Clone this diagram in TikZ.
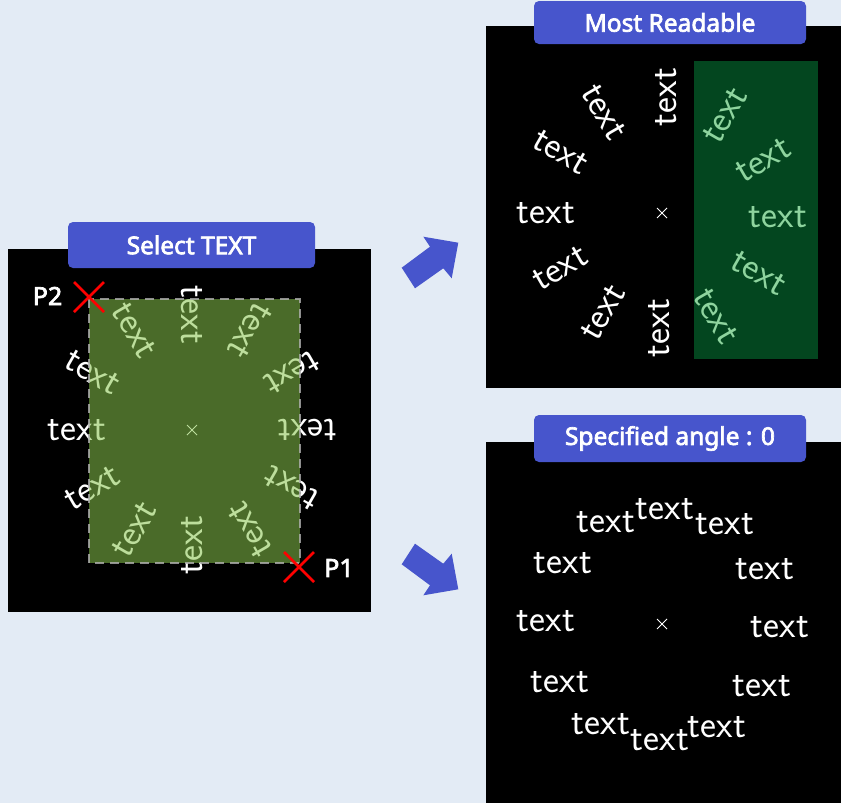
\documentclass[tikz,border=0pt]{standalone}
\usepackage{fontspec}
\usetikzlibrary{calc}
\newfontfamily\lblfont{Noto Sans}[FakeBold=2.8]
\definecolor{bg}{HTML}{E3EBF5}
\definecolor{blu}{HTML}{4755CC}
\definecolor{olivefill}{RGB}{135,195,76}
\definecolor{dgreen}{HTML}{03461F}
\definecolor{lgreen}{HTML}{8ED49E}
\begin{document}
\begin{tikzpicture}[x=1pt,y=-1pt,
 txt/.style={font=\sffamily\fontsize{38}{38}\selectfont, text=white, inner sep=0pt, anchor=center},
 gtxt/.style={txt, text=lgreen},
 lbl/.style={rounded corners=5pt, fill=blu, text=white, font=\lblfont\fontsize{24.5}{24.5}\selectfont, inner sep=0pt},
 plbl/.style={text=white, font=\lblfont\fontsize{25}{25}\selectfont, inner sep=0pt},
 panel/.style={fill=black},
 cross/.style={draw=red, line width=2.5pt},
 centermark/.style={draw=white, line width=1pt},
 bigarrow/.style={fill=blu}]
\fill[bg] (0,0) rectangle (841,803);
\useasboundingbox (0,0) rectangle (841,803);

% ---------- left panel ----------
\fill[panel] (8,249) rectangle (371,612);
\node[lbl, minimum width=247pt, minimum height=46pt] (lblA) at (191.5,245) {Select TEXT};
\foreach \t in {0,30,...,330} {
  \node[txt, rotate=\t+180] (a\t) at ({192+115*cos(\t)},{430-115*sin(\t)}) {text};
}
\coordinate (ca) at (192,430);
\draw[centermark] ($(ca)+(-5,-5)$) -- ($(ca)+(5,5)$) ($(ca)+(-5,5)$) -- ($(ca)+(5,-5)$);
\fill[olivefill, fill opacity=0.55] (89,299) rectangle (300,563);
\draw[gray!60, line width=1.6pt, dash pattern=on 9pt off 6pt, draw opacity=0.8] (89,299) rectangle (300,563);
\coordinate (p2) at (89,297);
\coordinate (p1) at (299,567);
\draw[cross] ($(p2)+(-15,-15)$) -- ($(p2)+(15,15)$) ($(p2)+(-15,15)$) -- ($(p2)+(15,-15)$);
\draw[cross] ($(p1)+(-15,-15)$) -- ($(p1)+(15,15)$) ($(p1)+(-15,15)$) -- ($(p1)+(15,-15)$);
\node[plbl] (lp2) at (47.5,296) {P2};
\node[plbl] (lp1) at (339,568) {P1};

% ---------- top right panel ----------
\fill[panel] (486,26) rectangle (841,388);
\fill[dgreen] (694,61) rectangle (818,359);
\node[lbl, minimum width=272pt, minimum height=43pt] (lblB) at (670,22.5) {Most Readable};
\node[txt, rotate=90]  (b1) at (666,97) {text};
\node[txt, rotate=-60] (b2) at (604,112) {text};
\node[txt, rotate=-30] (b3) at (561,152) {text};
\node[txt]             (b4) at (546,213) {text};
\node[txt, rotate=30]  (b5) at (560,268) {text};
\node[txt, rotate=60]  (b6) at (603,312) {text};
\node[txt, rotate=90]  (b7) at (659,328) {text};
\node[gtxt, rotate=60]  (b8) at (725,115) {text};
\node[gtxt, rotate=30]  (b9) at (763,160) {text};
\node[gtxt]             (b10) at (778,217) {text};
\node[gtxt, rotate=-30] (b11) at (759,273) {text};
\node[gtxt, rotate=-60] (b12) at (716,316) {text};
\coordinate (cb) at (662,213);
\draw[centermark] ($(cb)+(-5,-5)$) -- ($(cb)+(5,5)$) ($(cb)+(-5,5)$) -- ($(cb)+(5,-5)$);

% ---------- bottom right panel ----------
\fill[panel] (486,442) rectangle (841,803);
\node[lbl, minimum width=272pt, minimum height=47pt] (lblC) at (670,438.5) {Specified angle : 0};
\node[txt] (c1) at (606,522) {text};
\node[txt] (c2) at (665,509) {text};
\node[txt] (c3) at (725,524) {text};
\node[txt] (c4) at (563,563) {text};
\node[txt] (c5) at (765,569) {text};
\node[txt] (c6) at (546,621) {text};
\node[txt] (c7) at (780,627) {text};
\node[txt] (c8) at (560,682) {text};
\node[txt] (c9) at (762,686) {text};
\node[txt] (c10) at (601,724) {text};
\node[txt] (c11) at (660,740) {text};
\node[txt] (c12) at (717,727) {text};
\coordinate (cc) at (662,624);
\draw[centermark] ($(cc)+(-5,-5)$) -- ($(cc)+(5,5)$) ($(cc)+(-5,5)$) -- ($(cc)+(5,-5)$);

% ---------- block arrows ----------
\fill[bigarrow] (401.7,267.7) -- (430,246.7) -- (423.3,236.7) -- (458.3,242.7) -- (451.7,278.3) -- (443.3,268.3) -- (415,288.3) -- cycle;
\fill[bigarrow] (401.7,564.3) -- (430,585.3) -- (423.3,595.3) -- (458.3,589.3) -- (451.7,553.7) -- (443.3,563.7) -- (415,543.7) -- cycle;
\end{tikzpicture}
\end{document}
